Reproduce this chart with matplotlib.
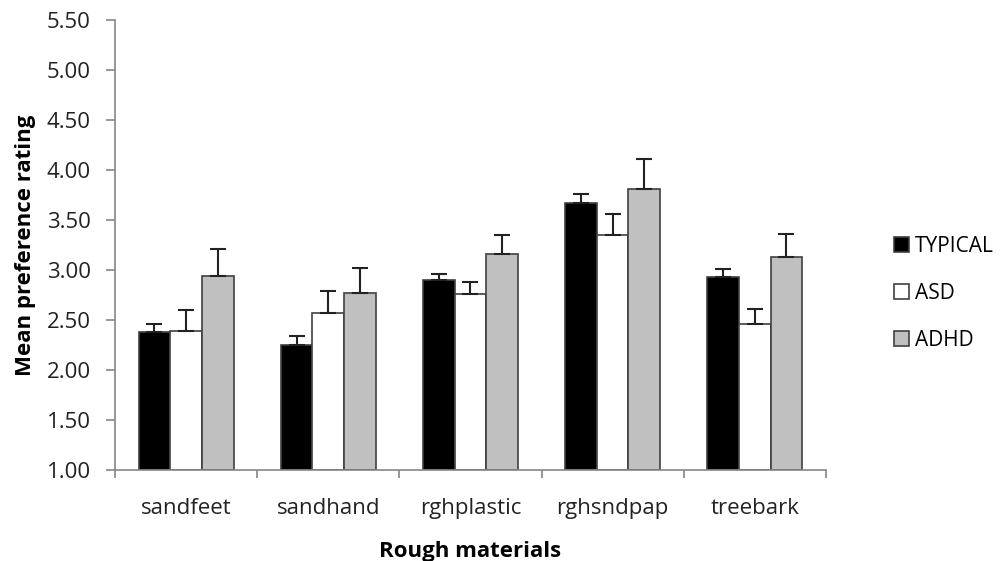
import numpy as np
import matplotlib
matplotlib.use("Agg")
import matplotlib.pyplot as plt

materials = ["sandfeet", "sandhand", "rghplastic", "rghsndpap", "treebark"]
groups = ["TYPICAL", "ASD", "ADHD"]
means = {
    "TYPICAL": [2.38, 2.25, 2.90, 3.67, 2.93],
    "ASD": [2.39, 2.57, 2.76, 3.35, 2.46],
    "ADHD": [2.94, 2.77, 3.16, 3.81, 3.13],
}
errors = {
    "TYPICAL": [0.08, 0.09, 0.065, 0.09, 0.08],
    "ASD": [0.21, 0.22, 0.12, 0.21, 0.15],
    "ADHD": [0.27, 0.25, 0.19, 0.30, 0.23],
}
colors = {"TYPICAL": "black", "ASD": "white", "ADHD": "#c0c0c0"}

plt.rcParams["font.family"] = ["Open Sans", "DejaVu Sans"]

fig = plt.figure(figsize=(10.01, 5.61), dpi=100)
ax = fig.add_axes([0.115, 0.162, 0.71, 0.802])

x = np.arange(len(materials))
w = 0.223
base = 1.0
for i, g in enumerate(groups):
    heights = np.array(means[g]) - base
    ax.bar(x + (i - 1) * w, heights, w, bottom=base, color=colors[g],
           edgecolor="#404040", linewidth=1.2, label=g, zorder=2)
    ax.errorbar(x + (i - 1) * w, means[g], yerr=[np.zeros(5), errors[g]],
                fmt="none", ecolor="#222222", elinewidth=1.5, capsize=6,
                capthick=1.5, zorder=3)

ax.set_xlim(-0.5, 4.5)
ax.set_ylim(1.0, 5.5)
yt = np.arange(1.0, 5.51, 0.5)
ax.set_yticks(yt)
ax.set_yticklabels([f"{v:.2f}" for v in yt], fontsize=16, color="#222222")
ax.set_xticks(np.arange(-0.5, 4.6, 1.0))
ax.set_xticklabels([])
ax.set_xticks(x, minor=True)
ax.set_xticklabels(materials, minor=True, fontsize=16, color="#222222")
ax.tick_params(axis="x", which="minor", length=0, pad=20)
ax.tick_params(axis="x", which="major", length=6, color="#868686", width=1.2)
ax.tick_params(axis="y", length=6.5, color="#868686", width=1.2, pad=11)

for s in ["top", "right"]:
    ax.spines[s].set_visible(False)
for s in ["left", "bottom"]:
    ax.spines[s].set_color("#868686")
    ax.spines[s].set_linewidth(1.2)

ax.set_ylabel("Mean preference rating", fontsize=16, fontweight="bold", labelpad=8)
ax.set_xlabel("Rough materials", fontsize=16, fontweight="bold", labelpad=16)

ax.legend(loc="center left", bbox_to_anchor=(1.07, 0.393), frameon=False,
          fontsize=15, handlelength=0.7, handleheight=0.7, labelspacing=1.25,
          handletextpad=0.3)

fig.savefig("out.png", dpi=100)
